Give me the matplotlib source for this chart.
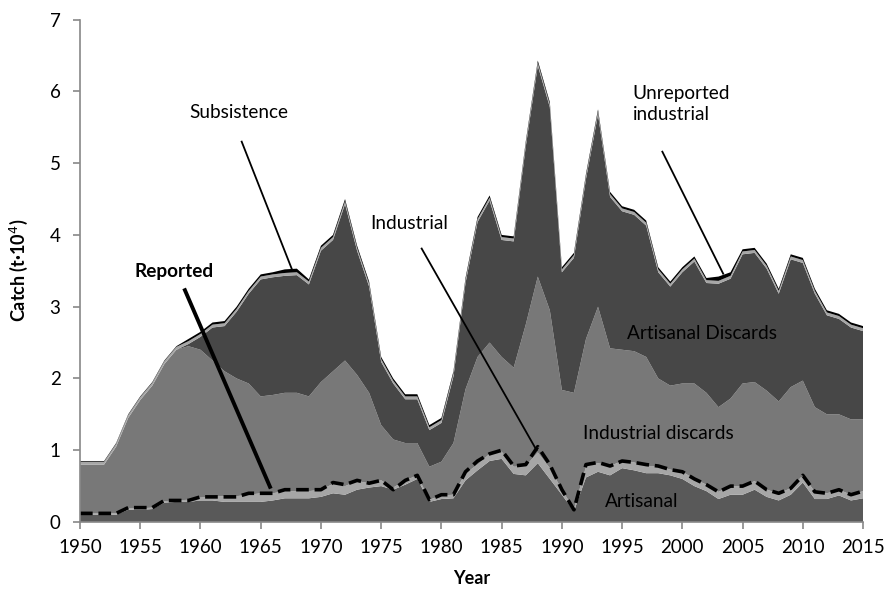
import numpy as np
import matplotlib.pyplot as plt

plt.rcParams['font.family'] = ['Lato', 'DejaVu Sans']

years = np.arange(1950, 2016)

# layer values (t x 10^4), bottom to top
artisanal = [0.10, 0.10, 0.10, 0.10, 0.17, 0.17, 0.18, 0.27, 0.28, 0.28,
             0.30, 0.30, 0.28, 0.28, 0.28, 0.28, 0.30, 0.33, 0.33, 0.33,
             0.35, 0.40, 0.38, 0.45, 0.48, 0.50, 0.45, 0.52, 0.60, 0.28,
             0.32, 0.33, 0.58, 0.72, 0.85, 0.88, 0.67, 0.65, 0.82, 0.60,
             0.38, 0.15, 0.62, 0.70, 0.65, 0.75, 0.72, 0.68, 0.68, 0.65,
             0.60, 0.50, 0.43, 0.32, 0.38, 0.38, 0.45, 0.35, 0.30, 0.38,
             0.55, 0.32, 0.32, 0.37, 0.30, 0.33]
industrial = [0.02, 0.02, 0.02, 0.02, 0.02, 0.02, 0.02, 0.02, 0.02, 0.03,
              0.04, 0.05, 0.08, 0.08, 0.10, 0.12, 0.10, 0.10, 0.10, 0.10,
              0.10, 0.13, 0.12, 0.12, 0.06, 0.08, 0.03, 0.06, 0.05, 0.03,
              0.05, 0.05, 0.10, 0.08, 0.10, 0.10, 0.10, 0.13, 0.15, 0.15,
              0.07, 0.03, 0.15, 0.12, 0.13, 0.10, 0.11, 0.10, 0.10, 0.08,
              0.10, 0.10, 0.09, 0.10, 0.12, 0.12, 0.12, 0.10, 0.10, 0.09,
              0.10, 0.10, 0.08, 0.08, 0.08, 0.10]
industrial_discards = [0.68, 0.68, 0.68, 0.93, 1.26, 1.51, 1.70, 1.91, 2.10, 2.14,
                       2.06, 1.90, 1.74, 1.64, 1.55, 1.35, 1.37, 1.37, 1.37, 1.32,
                       1.50, 1.57, 1.75, 1.48, 1.26, 0.77, 0.67, 0.52, 0.45, 0.46,
                       0.47, 0.72, 1.17, 1.50, 1.55, 1.32, 1.38, 1.97, 2.45, 2.20,
                       1.39, 1.62, 1.78, 2.18, 1.64, 1.55, 1.55, 1.52, 1.22, 1.17,
                       1.23, 1.33, 1.28, 1.18, 1.22, 1.43, 1.38, 1.38, 1.28, 1.41,
                       1.32, 1.18, 1.10, 1.05, 1.05, 1.00]
artisanal_discards = [0, 0, 0, 0, 0, 0, 0, 0, 0, 0.03,
                      0.18, 0.46, 0.63, 0.93, 1.25, 1.63, 1.64, 1.63, 1.64, 1.56,
                      1.83, 1.83, 2.18, 1.73, 1.48, 0.88, 0.78, 0.61, 0.61, 0.51,
                      0.54, 0.93, 1.48, 1.88, 1.98, 1.63, 1.76, 2.48, 2.94, 2.83,
                      1.64, 1.88, 2.23, 2.68, 2.11, 1.93, 1.90, 1.83, 1.48, 1.38,
                      1.55, 1.70, 1.53, 1.72, 1.67, 1.80, 1.80, 1.70, 1.50, 1.78,
                      1.64, 1.58, 1.38, 1.33, 1.28, 1.23]
unreported_industrial = [0.04] * 66
subsistence = [0.01] * 9 + [0.03] * 8 + [0.05, 0.05] + [0.03] * 34 + [0.06, 0.05] + [0.03] * 11

reported = [0.12, 0.12, 0.12, 0.12, 0.2, 0.2, 0.2, 0.3, 0.3, 0.3,
            0.35, 0.35, 0.35, 0.35, 0.4, 0.4, 0.4, 0.45, 0.45, 0.45,
            0.45, 0.55, 0.52, 0.58, 0.54, 0.58, 0.45, 0.58, 0.65, 0.31,
            0.38, 0.38, 0.70, 0.85, 0.95, 1.0, 0.78, 0.8, 1.05, 0.8,
            0.45, 0.17, 0.8, 0.83, 0.78, 0.85, 0.83, 0.8, 0.78, 0.73,
            0.7, 0.6, 0.52, 0.42, 0.5, 0.5, 0.57, 0.45, 0.4, 0.47,
            0.65, 0.42, 0.4, 0.45, 0.38, 0.43]

colors = ['#595959', '#a6a6a6', '#787878', '#474747', '#a6a6a6', '#000000']

fig = plt.figure(figsize=(8.87, 5.95), dpi=100)
ax = fig.add_axes([0.0902, 0.1227, 0.8828, 0.8443])

ax.stackplot(years, artisanal, industrial, industrial_discards,
             artisanal_discards, unreported_industrial, subsistence,
             colors=colors, linewidth=0)
ax.plot(years, reported, color='black', lw=2.6, dashes=(3.5, 1.6))

ax.set_xlim(1950, 2015)
ax.set_ylim(0, 7)
ax.set_xticks(np.arange(1950, 2016, 5))
ax.set_yticks(np.arange(0, 8, 1))
for s in ['top', 'right']:
    ax.spines[s].set_visible(False)
for s in ['left', 'bottom']:
    ax.spines[s].set_color('#888888')
    ax.spines[s].set_linewidth(1.2)
ax.tick_params(colors='#888888', labelcolor='black', labelsize=13.5, length=5, width=1.2)
ax.tick_params(axis='x', pad=7)
ax.tick_params(axis='y', pad=9)
ax.set_xlabel('Year', fontsize=13, fontweight='bold', labelpad=10)
ax.set_ylabel('Catch (t·10$^4$)', fontsize=13, fontweight='bold', labelpad=14)

# labels with leader lines
txt = dict(fontsize=13.7, color='black')
ax.text(1963.15, 5.71, 'Subsistence', ha='center', va='center', **txt)
ax.plot([1963.42, 1967.57], [5.30, 3.53], color='black', lw=1.3)
ax.text(1957.84, 3.49, 'Reported', ha='center', va='center', fontweight='bold', **txt)
ax.plot([1958.71, 1965.77], [3.23, 0.49], color='black', lw=2.8)
ax.text(1977.3, 4.16, 'Industrial', ha='center', va='center', **txt)
ax.plot([1978.36, 1987.9], [3.81, 1.0], color='black', lw=1.3)
ax.text(1995.87, 5.82, 'Unreported\nindustrial', ha='left', va='center',
        linespacing=1.3, **txt)
ax.plot([1998.34, 2003.39], [5.16, 3.46], color='black', lw=1.3)
ax.text(2001.66, 2.63, 'Artisanal Discards', ha='center', va='center', **txt)
ax.text(1998.02, 1.24, 'Industrial discards', ha='center', va='center', **txt)
ax.text(1996.64, 0.28, 'Artisanal', ha='center', va='center', **txt)

fig.savefig('out.png', dpi=100)
